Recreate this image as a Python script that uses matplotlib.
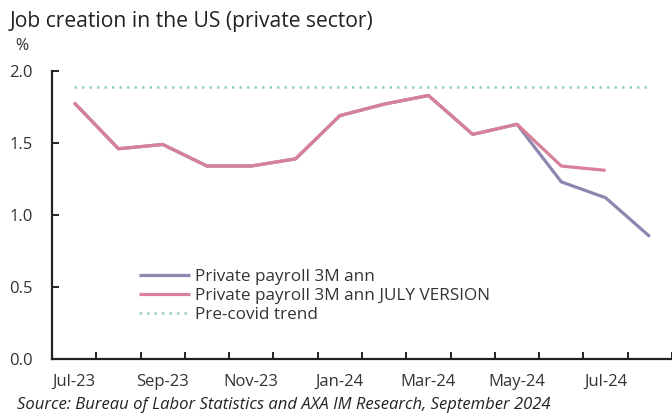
import matplotlib.pyplot as plt
import numpy as np

months = ["Jul-23", "Aug-23", "Sep-23", "Oct-23", "Nov-23", "Dec-23", "Jan-24",
          "Feb-24", "Mar-24", "Apr-24", "May-24", "Jun-24", "Jul-24", "Aug-24"]
payroll = [1.78, 1.46, 1.49, 1.34, 1.34, 1.39, 1.69, 1.77, 1.83, 1.56, 1.63, 1.23, 1.12, 0.85]
payroll_july = [1.78, 1.46, 1.49, 1.34, 1.34, 1.39, 1.69, 1.77, 1.83, 1.56, 1.63, 1.34, 1.31]
trend = [1.89] * len(months)

plt.rcParams['font.family'] = ['Open Sans', 'DejaVu Sans']

fig = plt.figure(figsize=(6.72, 4.17), dpi=100)
ax = fig.add_axes([52 / 672, 1 - 359 / 417, 1 - 52 / 672, (359 - 71) / 417])

x = np.arange(len(months))
ax.plot(x, payroll, color='#8C87B0', lw=2.3, label='Private payroll 3M ann', solid_capstyle='butt')
ax.plot(x[:len(payroll_july)], payroll_july, color='#D8809A', lw=2.3,
        label='Private payroll 3M ann JULY VERSION', solid_capstyle='butt')
ax.plot(x, trend, color='#8FD4AE', lw=1.8, ls=(0, (1, 2)), label='Pre-covid trend')

ax.set_xlim(-0.5, len(months) - 0.5)
ax.set_ylim(0, 2.0)
ax.set_yticks([0, 0.5, 1.0, 1.5, 2.0])
ax.set_yticklabels(['0.0', '0.5', '1.0', '1.5', '2.0'])
# tick marks between categories, labels on every other month
ax.set_xticks(np.arange(0.5, len(months) - 0.4, 1.0))
ax.set_xticklabels([])
ax.set_xticks(x[::2], minor=True)
ax.set_xticklabels(months[::2], minor=True)
ax.tick_params(axis='x', which='major', direction='in', length=5, width=1.2)
ax.tick_params(axis='x', which='minor', length=0, pad=11, labelsize=12, labelcolor='#333333')
ax.tick_params(axis='y', direction='in', length=5, width=1.2, pad=14, labelsize=12, labelcolor='#333333')
for s in ['top', 'right']:
    ax.spines[s].set_visible(False)
for s in ['left', 'bottom']:
    ax.spines[s].set_linewidth(1.6)
    ax.spines[s].set_color('#222222')

leg = ax.legend(loc='lower left', bbox_to_anchor=(0.115, 0.07), frameon=False,
                fontsize=12.3, handlelength=3.0, handletextpad=0.3, labelspacing=0.2)
for t in leg.get_texts():
    t.set_color('#333333')

fig.text(10 / 672, 1 - 21 / 417, 'Job creation in the US (private sector)', fontsize=15.2,
         va='center', ha='left', color='#222222')
fig.text(22 / 672, 1 - 46 / 417, '%', fontsize=11.5, va='center', ha='center', color='#333333')
fig.text(17 / 672, 1 - 405 / 417, 'Source: Bureau of Labor Statistics and AXA IM Research, September 2024',
         fontsize=12, style='italic', va='center', ha='left', color='#222222')

fig.savefig('out.png', dpi=100)
